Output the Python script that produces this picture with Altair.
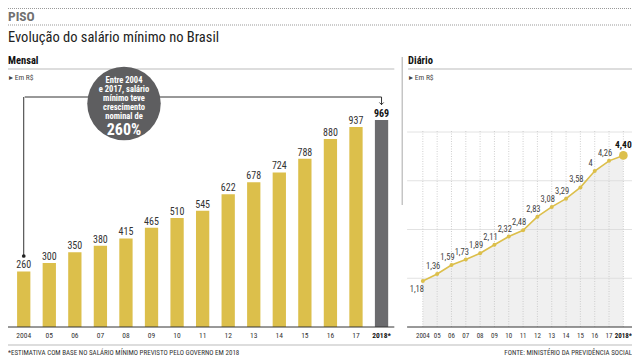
import altair as alt
import pandas as pd

# ---- data ----
anos = ["2004", "05", "06", "07", "08", "09", "10", "11", "12", "13", "14", "15", "16", "17", "2018*"]
mensal = [260, 300, 350, 380, 415, 465, 510, 545, 622, 678, 724, 788, 880, 937, 969]
diario = [1.18, 1.36, 1.59, 1.73, 1.89, 2.11, 2.32, 2.48, 2.83, 3.08, 3.29, 3.58, 4.00, 4.26, 4.40]
diario_rot = ["1,18", "1,36", "1,59", "1,73", "1,89", "2,11", "2,32", "2,48", "2,83",
              "3,08", "3,29", "3,58", "4", "4,26", "4,40"]
tipo = ["real"] * 14 + ["estimativa"]
grade = [1.25, 2.5, 3.75, 5.0]
nota_linhas = ["Entre 2004", "e 2017, salário", "mínimo teve", "crescimento", "nominal de"]

df = pd.DataFrame({"ano": anos, "mensal": mensal, "diario": diario,
                   "rot": diario_rot, "tipo": tipo, "ordem": list(range(len(anos)))})
dg = pd.DataFrame({"g": grade})

# ---- layout helpers (reference pixel -> chart pixel) ----
S = 0.983
def X(x): return (x - 2) * S
def Y(y): return y - 8

FONT = "Liberation Sans Narrow, Roboto Condensed, Roboto, sans-serif"
GOLD = "#dcbf4b"
GRAY = "#6b6b6e"

base = alt.Chart(df)
bx = alt.Scale(type="band", domain=anos, range=[X(5), X(395)], paddingInner=0.48, paddingOuter=0.24)
by = alt.Scale(domain=[0, 1000], range=[Y(327), Y(327 - 213.5)])
px = alt.Scale(type="point", domain=anos, range=[X(424), X(628)], padding=0)
py = alt.Scale(domain=[0, 5], range=[Y(327), Y(132)])

def txt(s, x, y, size=10, weight="normal", color="#222", align="left", font=FONT):
    return alt.Chart(pd.DataFrame({"t": [s]})).mark_text(
        fontSize=size, fontWeight=weight, color=color, align=align, baseline="middle", font=font
    ).encode(text="t:N", x=alt.value(x), y=alt.value(y))

def hrule(x1, x2, y, color="#bbb", dash=None, width=1):
    kw = dict(color=color, strokeWidth=width)
    if dash:
        kw["strokeDash"] = dash
    return alt.Chart(pd.DataFrame({"a": [0]})).mark_rule(**kw).encode(
        x=alt.value(x1), x2=alt.value(x2), y=alt.value(y))

def vrule(x, y1, y2, color="#bbb", width=1):
    return alt.Chart(pd.DataFrame({"a": [0]})).mark_rule(color=color, strokeWidth=width).encode(
        x=alt.value(x), y=alt.value(y1), y2=alt.value(y2))

layers = []
# header (compressed to fit under the page margin)
layers += [
    hrule(0, X(638), 0.5, color="#999", dash=[1, 1]),
    txt("PISO", X(2), 9, size=13.5, weight="bold", color="#707070"),
    hrule(0, X(638), 17, color="#999", dash=[1, 1]),
    txt("Evolução do salário mínimo no Brasil", X(2), 29.5, size=14.5, color="#222"),
    txt("Mensal", X(2), Y(61), size=10.5, weight="bold", color="#111"),
    hrule(0, X(395), Y(69), color="#bbb"),
    txt("▸ Em R$", X(3), Y(78), size=7.5, color="#444"),
    txt("Diário", X(409), Y(61), size=10.5, weight="bold", color="#111"),
    hrule(X(409), X(638), Y(69), color="#bbb"),
    txt("▸ Em R$", X(410), Y(78), size=7.5, color="#444"),
    vrule(X(403), Y(57), Y(205), color="#aaa"),
    hrule(0, X(638), Y(345), color="#bbb"),
    txt("*ESTIMATIVA COM BASE NO SALÁRIO MÍNIMO PREVISTO PELO GOVERNO EM 2018", X(2), Y(353), size=7, color="#333"),
    txt("FONTE: MINISTÉRIO DA PREVIDÊNCIA SOCIAL", X(637), Y(353), size=7, color="#333", align="right"),
]

# ---- left: monthly bars ----
xb = alt.X("ano:N", sort=anos, scale=bx, axis=None)
xbc = alt.X("ano:N", sort=anos, scale=bx, axis=None, bandPosition=0.5)
layers.append(base.mark_bar().encode(
    x=xb, y=alt.Y("mensal:Q", scale=by, axis=None),
    color=alt.Color("tipo:N", scale=alt.Scale(domain=["real", "estimativa"], range=[GOLD, GRAY]), legend=None)))
layers.append(base.transform_filter(alt.datum.tipo == "real").mark_text(
    dy=-3, baseline="alphabetic", fontSize=10, color="#333", font=FONT).encode(
    x=xbc, y=alt.Y("mensal:Q", scale=by, axis=None), text="mensal:Q"))
layers.append(base.transform_filter(alt.datum.tipo == "estimativa").mark_text(
    dy=-3, baseline="alphabetic", fontSize=10, fontWeight="bold", color="#111", font=FONT).encode(
    x=xbc, y=alt.Y("mensal:Q", scale=by, axis=None), text="mensal:Q"))
layers.append(hrule(0, X(395), Y(327), color="#333"))
layers.append(base.transform_filter(alt.datum.tipo == "real").mark_text(
    fontSize=7.5, color="#333", font=FONT, baseline="middle").encode(
    x=xbc, y=alt.value(Y(335.5)), text="ano:N"))
layers.append(base.transform_filter(alt.datum.tipo == "estimativa").mark_text(
    fontSize=7.5, fontWeight="bold", color="#111", font=FONT, baseline="middle").encode(
    x=xbc, y=alt.value(Y(335.5)), text="ano:N"))

# annotation bracket + circle
layers.append(base.transform_filter(alt.datum.ordem == 0).mark_rule(color="#333", strokeWidth=1).encode(
    x=xbc, y=alt.value(Y(256)), y2=alt.value(Y(97))))
layers.append(base.transform_filter(alt.datum.ordem == 0).mark_circle(color="#222", size=14, opacity=1).encode(
    x=xbc, y=alt.value(Y(256))))
layers.append(hrule(X(19), X(382), Y(97), color="#333"))
layers.append(base.transform_filter(alt.datum.ordem == 14).mark_rule(color="#333", strokeWidth=1).encode(
    x=xbc, y=alt.value(Y(97)), y2=alt.value(Y(105))))
layers.append(base.transform_filter(alt.datum.ordem == 14).mark_point(
    shape="M-1,-0.7L0,0.3L1,-0.7", filled=False, color="#333", size=18, strokeWidth=1, opacity=1).encode(
    x=xbc, y=alt.value(Y(104))))
layers.append(alt.Chart(pd.DataFrame({"a": [0]})).mark_circle(color="#5e5e60", size=5400, opacity=1).encode(
    x=alt.value(X(120)), y=alt.value(Y(103.5))))
for i, linha in enumerate(nota_linhas):
    layers.append(txt(linha, X(120), Y(80 + 9 * i), size=8.5, weight="bold", color="white", align="center"))
layers.append(txt("260%", X(120), Y(129.5), size=16, weight="bold", color="white", align="center"))

# ---- right: daily line ----
xp = alt.X("ano:N", sort=anos, scale=px, axis=None)
yp = alt.Y("diario:Q", scale=py, axis=None)
layers.append(alt.Chart(dg).mark_rule(color="#e2e2e2", strokeWidth=1).encode(
    y=alt.Y("g:Q", scale=py, axis=None), x=alt.value(X(408)), x2=alt.value(X(638))))
layers.append(base.mark_area(color="#d9d9d9", opacity=0.4).encode(x=xp, y=yp))
layers.append(base.mark_rule(color="#c4c4c4", strokeDash=[1, 1.5], strokeWidth=0.8).encode(
    x=xp, y=alt.value(Y(131)), y2=alt.value(Y(327))))
layers.append(base.mark_line(color=GOLD, strokeWidth=1.6).encode(x=xp, y=yp))
layers.append(base.transform_filter(alt.datum.ordem < 14).mark_circle(color=GOLD, size=16, opacity=1).encode(x=xp, y=yp))
layers.append(base.transform_filter(alt.datum.ordem == 14).mark_circle(color=GOLD, size=75, opacity=1).encode(x=xp, y=yp))
layers.append(base.transform_filter((alt.datum.ordem > 0) & (alt.datum.ordem < 14)).mark_text(
    dx=-4, dy=-8, fontSize=8.5, color="#444", font=FONT).encode(x=xp, y=yp, text="rot:N"))
layers.append(base.transform_filter(alt.datum.ordem == 0).mark_text(
    dx=-6, dy=8, fontSize=8.5, color="#444", font=FONT).encode(x=xp, y=yp, text="rot:N"))
layers.append(base.transform_filter(alt.datum.ordem == 14).mark_text(
    dy=-10, fontSize=9.5, fontWeight="bold", color="#111", font=FONT).encode(x=xp, y=yp, text="rot:N"))
layers.append(hrule(X(408), X(638), Y(327), color="#333"))
layers.append(base.transform_filter(alt.datum.tipo == "real").mark_text(
    fontSize=7, color="#333", font=FONT, baseline="middle").encode(
    x=xp, y=alt.value(Y(335.5)), text="ano:N"))
layers.append(base.transform_filter(alt.datum.tipo == "estimativa").mark_text(
    fontSize=7, fontWeight="bold", color="#111", font=FONT, baseline="middle").encode(
    x=xp, y=alt.value(Y(335.5)), text="ano:N"))

chart = alt.layer(*layers).resolve_scale(
    x="independent", y="independent", color="independent"
).properties(
    width=624, height=353, padding=0, autosize=alt.AutoSizeParams(type="none"),
    background="white"
).configure_view(stroke=None)

chart.save("out.html", embed_options={"renderer": "svg", "actions": False})
